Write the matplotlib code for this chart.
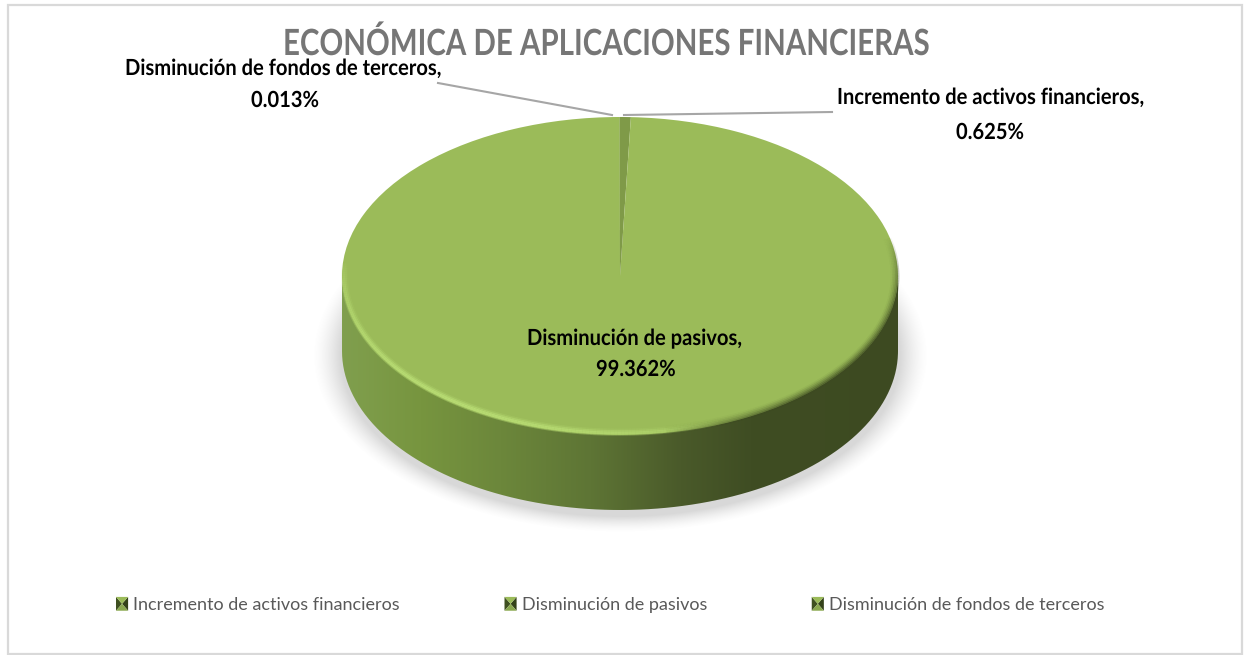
import numpy as np
import matplotlib
matplotlib.use('Agg')
import matplotlib.pyplot as plt
import matplotlib.patheffects as pe
from matplotlib.patches import Patch, Rectangle, PathPatch, Polygon
from matplotlib.path import Path
from matplotlib.collections import LineCollection
from matplotlib.legend_handler import HandlerBase
from matplotlib.transforms import Affine2D

W, H = 1244, 655
categories = ['Incremento de activos financieros', 'Disminución de pasivos', 'Disminución de fondos de terceros']
values = [0.625, 99.362, 0.013]
slice_colors = ['#7f9a48', '#9bbb59', '#5f7530']
value_labels = ['0.625%', '99.362%', '0.013%']
title = 'ECONÓMICA DE APLICACIONES FINANCIERAS'

plt.rcParams['font.family'] = ['Lato', 'DejaVu Sans']

cx, cy, rx, ry, depth = 620, 276, 278, 159, 75


class BevelHandler(HandlerBase):
    # little bevelled square, dark left and right, lit top and bottom
    def create_artists(self, legend, orig, xd, yd, width, height, fontsize, trans):
        x0, y0 = -xd, -yd
        x1, y1 = x0+width, y0+height
        xm, ym = (x0+x1)/2, (y0+y1)/2
        faces = [([(x0, y0), (x0, y1), (xm, ym)], '#3f5020'),
                 ([(x1, y0), (x1, y1), (xm, ym)], '#34421a'),
                 ([(x0, y1), (x1, y1), (xm, ym)], '#9bbb59'),
                 ([(x0, y0), (x1, y0), (xm, ym)], '#8aa84f')]
        return [Polygon(p, closed=True, fc=c, ec='none', transform=trans) for p, c in faces]


class Squeeze(pe.AbstractPathEffect):
    # the reference font is narrower than anything installed
    def __init__(self, sx):
        super().__init__()
        self.sx = sx

    def draw_path(self, renderer, gc, tpath, affine, rgbFace=None):
        renderer.draw_path(gc, tpath, Affine2D().scale(self.sx, 1)+affine, rgbFace)


fig = plt.figure(figsize=(W/100, H/100), dpi=100)

# background axes in pixels, y down
bg = fig.add_axes([0, 0, 1, 1])
bg.axis('off')
bg.add_patch(Rectangle((8, 5), 1234, 649, fc='white', ec='#d9d9d9', lw=1.6))

# soft shadow under the disc
xx, yy = np.meshgrid(np.arange(300, 940), np.arange(230, 560))
d = np.hypot((xx-cx)/(rx+2), (yy-(cy+depth+4))/(ry+2))
alpha = np.clip((1.10-d)/0.10, 0, 1)**1.5*0.30
shadow = np.zeros(xx.shape+(4,))
shadow[..., :3] = 0.5
shadow[..., 3] = alpha
bg.imshow(shadow, extent=(300, 940, 560, 230), aspect='auto', interpolation='bilinear', zorder=1)

# side wall of the disc with horizontal gradient
t = np.linspace(np.pi, 0, 200)
sx = cx+rx*np.cos(t)
bx = np.r_[sx, sx[::-1]]
by = np.r_[cy+ry*np.sin(t)+depth, cy+ry*np.sin(t[::-1])-2]
wall = PathPatch(Path(np.c_[bx, by]), fc='none', ec='none', zorder=2)
bg.add_patch(wall)
stops_x = [342, 420, 500, 590, 680, 750, 898]
stops_c = ['#809f4e', '#77953f', '#6c873b', '#5e7535', '#4a5a2a', '#3f4d23', '#3d4a21']
rgb = np.array([matplotlib.colors.to_rgb(c) for c in stops_c])
gx = np.arange(342, 899)
grad = np.stack([np.interp(gx, stops_x, rgb[:, i]) for i in range(3)], axis=-1)[None, :, :]
im = bg.imshow(grad, extent=(342, 899, 520, 250), aspect='auto', zorder=2)
im.set_clip_path(wall)
bg.set_xlim(0, W)
bg.set_ylim(H, 0)

# top face
pad = 1.25
ax = fig.add_axes([(cx-pad*rx)/W, 1-(cy+pad*ry)/H, 2*pad*rx/W, 2*pad*ry/H])
ax.patch.set_alpha(0)
ax.pie(values, colors=slice_colors, startangle=90, counterclock=False, radius=1.0)
ax.set_aspect('auto')
ax.set_xlim(-pad, pad)
ax.set_ylim(-pad, pad)

over = fig.add_axes([0, 0, 1, 1])
over.axis('off')
over.patch.set_alpha(0)


def rim(a0, a1, inset, color, peak, power):
    # stroke along the rim of the top face, fading out at both ends
    a = np.linspace(a0, a1, 160)
    x = cx+(rx-inset)*np.cos(a)
    y = cy+(ry-inset)*np.sin(a)
    seg = np.stack([np.c_[x[:-1], y[:-1]], np.c_[x[1:], y[1:]]], axis=1)
    cols = np.zeros((len(seg), 4))
    cols[:, :3] = matplotlib.colors.to_rgb(color)
    cols[:, 3] = peak*np.sin(np.linspace(0, np.pi, len(seg)))**power
    over.add_collection(LineCollection(seg, colors=cols, linewidths=2))


# lit bevel on the lower left, dark bevel on the right
for inset, peak in zip([5, 3.5, 2, 0.5], [0.2, 0.45, 0.7, 0.45]):
    rim(np.pi*1.03, np.pi*0.38, inset, '#bde278', peak, 0.6)
for inset, peak in zip([6, 4.5, 3, 1.5, 0], [0.06, 0.14, 0.26, 0.42, 0.6]):
    rim(np.pi*0.45, -np.pi*0.08, inset, '#3d4a21', peak, 0.8)

# leader lines
over.plot([438, 612], [83, 115], color='#a6a6a6', lw=1.5)
over.plot([832, 624], [112, 115], color='#a6a6a6', lw=1.5)

over.text(283, 55, title, fontsize=26, fontweight='bold', color='#767676', ha='left', va='baseline',
          path_effects=[Squeeze(0.816)])
lab = dict(fontsize=16, fontweight='bold', ha='left', va='baseline', color='black', path_effects=[Squeeze(0.906)])
over.text(125, 75, categories[2]+',', **lab)
over.text(251, 107, value_labels[2], **lab)
over.text(837, 104, categories[0]+',', **lab)
over.text(956, 139, value_labels[0], **lab)
over.text(527, 345, categories[1]+',', **lab)
over.text(596, 376, value_labels[1], **lab)

handles = [Patch(label=c) for c in categories]
leg = over.legend(handles=handles, ncol=3, loc='center left', bbox_to_anchor=(116/W, 1-605/H),
                  frameon=False, fontsize=13, labelcolor='#595959', handlelength=0.67, handleheight=0.8,
                  handletextpad=0.28, columnspacing=5.8, borderpad=0, borderaxespad=0,
                  handler_map={Patch: BevelHandler()})
over.set_xlim(0, W)
over.set_ylim(H, 0)

fig.savefig('out.png', dpi=100)
